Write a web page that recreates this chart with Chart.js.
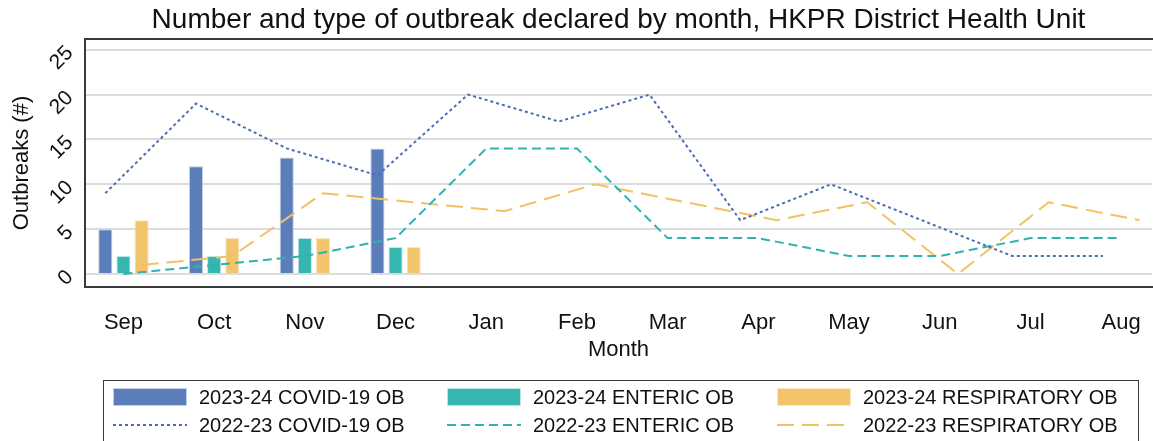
<!DOCTYPE html>
<html>
<head>
<meta charset="utf-8">
<script src="https://cdn.jsdelivr.net/npm/chart.js@4.4.1/dist/chart.umd.min.js"></script>
<style>
  html, body { margin: 0; padding: 0; background: #fff; }
  #wrap { width: 1153px; height: 441px; }
</style>
</head>
<body>
<div id="wrap"><canvas id="myChart" width="1153" height="441"></canvas></div>
<script>
var months = ["Sep", "Oct", "Nov", "Dec", "Jan", "Feb", "Mar", "Apr", "May", "Jun", "Jul", "Aug"];
var yTicks = [0, 5, 10, 15, 20, 25];

// 2023-24 season so far (bars)
var covid2324 = [5, 12, 13, 14];
var enteric2324 = [2, 2, 4, 3];
var resp2324 = [6, 4, 4, 3];

// 2022-23 season (lines)
var covid2223 = [9, 19, 14, 11, 20, 17, 20, 6, 10, 6, 2, 2];
var enteric2223 = [0, 1, 2, 4, 14, 14, 4, 4, 2, 2, 4, 4];
var resp2223 = [1, 2, 9, 8, 7, 10, 8, 6, 8, 0, 8, 6];

var TITLE = 'Number and type of outbreak declared by month, HKPR District Health Unit';
var FONT = '"Liberation Sans", Arial, sans-serif';
var BLUE = '#5b7dba', TEAL = '#35b6b1', GOLD = '#f2c46b';

function pts(vals, shift) {
  return vals.map(function (v, i) { return { x: i + shift, y: v }; });
}

// plot frame + title centred over the plot area
var frame = {
  id: 'frame',
  beforeDatasetsDraw: function (chart) {
    var a = chart.chartArea, c = chart.ctx;
    c.save();
    c.strokeStyle = '#3a3a3a';
    c.lineWidth = 2;
    c.strokeRect(a.left, a.top, a.right - a.left + 4, a.bottom - a.top);
    c.restore();
  },
  afterDraw: function (chart) {
    var a = chart.chartArea, c = chart.ctx;
    c.save();
    c.font = '28px ' + FONT;
    c.fillStyle = '#111';
    c.textAlign = 'center';
    c.textBaseline = 'middle';
    c.fillText(TITLE, (a.left + a.right) / 2, 20);
    c.restore();
  }
};

// legend drawn by hand: three columns, two rows, in a box
var boxLegend = {
  id: 'boxLegend',
  afterDraw: function (chart) {
    var c = chart.ctx;
    var cols = [113, 447, 777], rows = [397, 425];
    c.save();
    c.strokeStyle = '#3a3a3a';
    c.lineWidth = 1;
    c.strokeRect(103.5, 380.5, 1035, 70);
    c.font = '20px ' + FONT;
    c.textBaseline = 'middle';
    chart.data.datasets.forEach(function (ds, i) {
      var x = cols[i % 3], y = rows[Math.floor(i / 3)];
      if (ds.type === 'line') {
        c.strokeStyle = ds.borderColor;
        c.lineWidth = ds.borderWidth;
        c.setLineDash(ds.borderDash);
        c.beginPath(); c.moveTo(x, y); c.lineTo(x + 74, y); c.stroke();
        c.setLineDash([]);
      } else {
        c.fillStyle = ds.backgroundColor;
        c.fillRect(x, y - 9, 74, 18);
        c.strokeStyle = ds.borderColor;
        c.lineWidth = 1;
        c.strokeRect(x + 0.5, y - 8.5, 73, 17);
      }
      c.fillStyle = '#111';
      c.fillText(ds.label, x + 86, y + 1);
    });
    c.restore();
  }
};

var ctx = document.getElementById("myChart").getContext('2d');
var chart = new Chart(ctx, {
  type: 'bar',
  data: {
    datasets: [
      { label: '2023-24 COVID-19 OB', data: pts(covid2324, 0), backgroundColor: BLUE, borderColor: '#c3cfe6', borderWidth: 1, order: 2 },
      { label: '2023-24 ENTERIC OB', data: pts(enteric2324, 0), backgroundColor: TEAL, borderColor: '#bfe6e4', borderWidth: 1, order: 2 },
      { label: '2023-24 RESPIRATORY OB', data: pts(resp2324, 0), backgroundColor: GOLD, borderColor: '#fae6c0', borderWidth: 1, order: 2 },
      { type: 'line', label: '2022-23 COVID-19 OB', data: pts(covid2223, -0.2), borderColor: '#4a6db3', borderWidth: 2, borderDash: [3, 3], pointRadius: 0, fill: false, order: 1 },
      { type: 'line', label: '2022-23 ENTERIC OB', data: pts(enteric2223, 0), borderColor: '#2fb3ad', borderWidth: 2, borderDash: [9, 5], pointRadius: 0, fill: false, order: 1 },
      { type: 'line', label: '2022-23 RESPIRATORY OB', data: pts(resp2223, 0.2), borderColor: '#f1c264', borderWidth: 2, borderDash: [17, 8], pointRadius: 0, fill: false, order: 1 }
    ]
  },
  options: {
    responsive: false,
    animation: false,
    categoryPercentage: 0.6,
    barPercentage: 0.78,
    layout: { padding: { left: 0, right: 1, top: 39, bottom: 74 } },
    plugins: {
      legend: { display: false },
      tooltip: { enabled: false },
      title: { display: false }
    },
    scales: {
      x: {
        type: 'linear',
        offset: false,
        min: -0.424,
        max: 11.34,
        grid: { display: false, offset: false },
        border: { display: false },
        afterBuildTicks: function (s) { s.ticks = months.map(function (m, i) { return { value: i }; }); },
        afterFit: function (s) { s.height = 80; s.paddingLeft = 0; s.paddingRight = 0; },
        ticks: {
          autoSkip: false, maxRotation: 0, minRotation: 0, padding: 15,
          color: '#111', font: { family: FONT, size: 22 },
          callback: function (v) { return months[v]; }
        },
        title: { display: true, text: 'Month', color: '#111', font: { family: FONT, size: 22 }, padding: 4 }
      },
      y: {
        min: -1.45,
        max: 26.2,
        grid: { color: '#dcdcdc', lineWidth: 2, drawTicks: false },
        border: { display: false },
        afterBuildTicks: function (s) { s.ticks = yTicks.map(function (v) { return { value: v }; }); },
        afterFit: function (s) { s.width = 85; s.paddingTop = 0; s.paddingBottom = 0; },
        ticks: { minRotation: 45, maxRotation: 45, padding: 15, color: '#111', font: { family: FONT, size: 21 } },
        title: { display: true, text: 'Outbreaks (#)', color: '#111', font: { family: FONT, size: 22 }, padding: 9 }
      }
    }
  },
  plugins: [frame, boxLegend]
});
</script>
</body>
</html>
